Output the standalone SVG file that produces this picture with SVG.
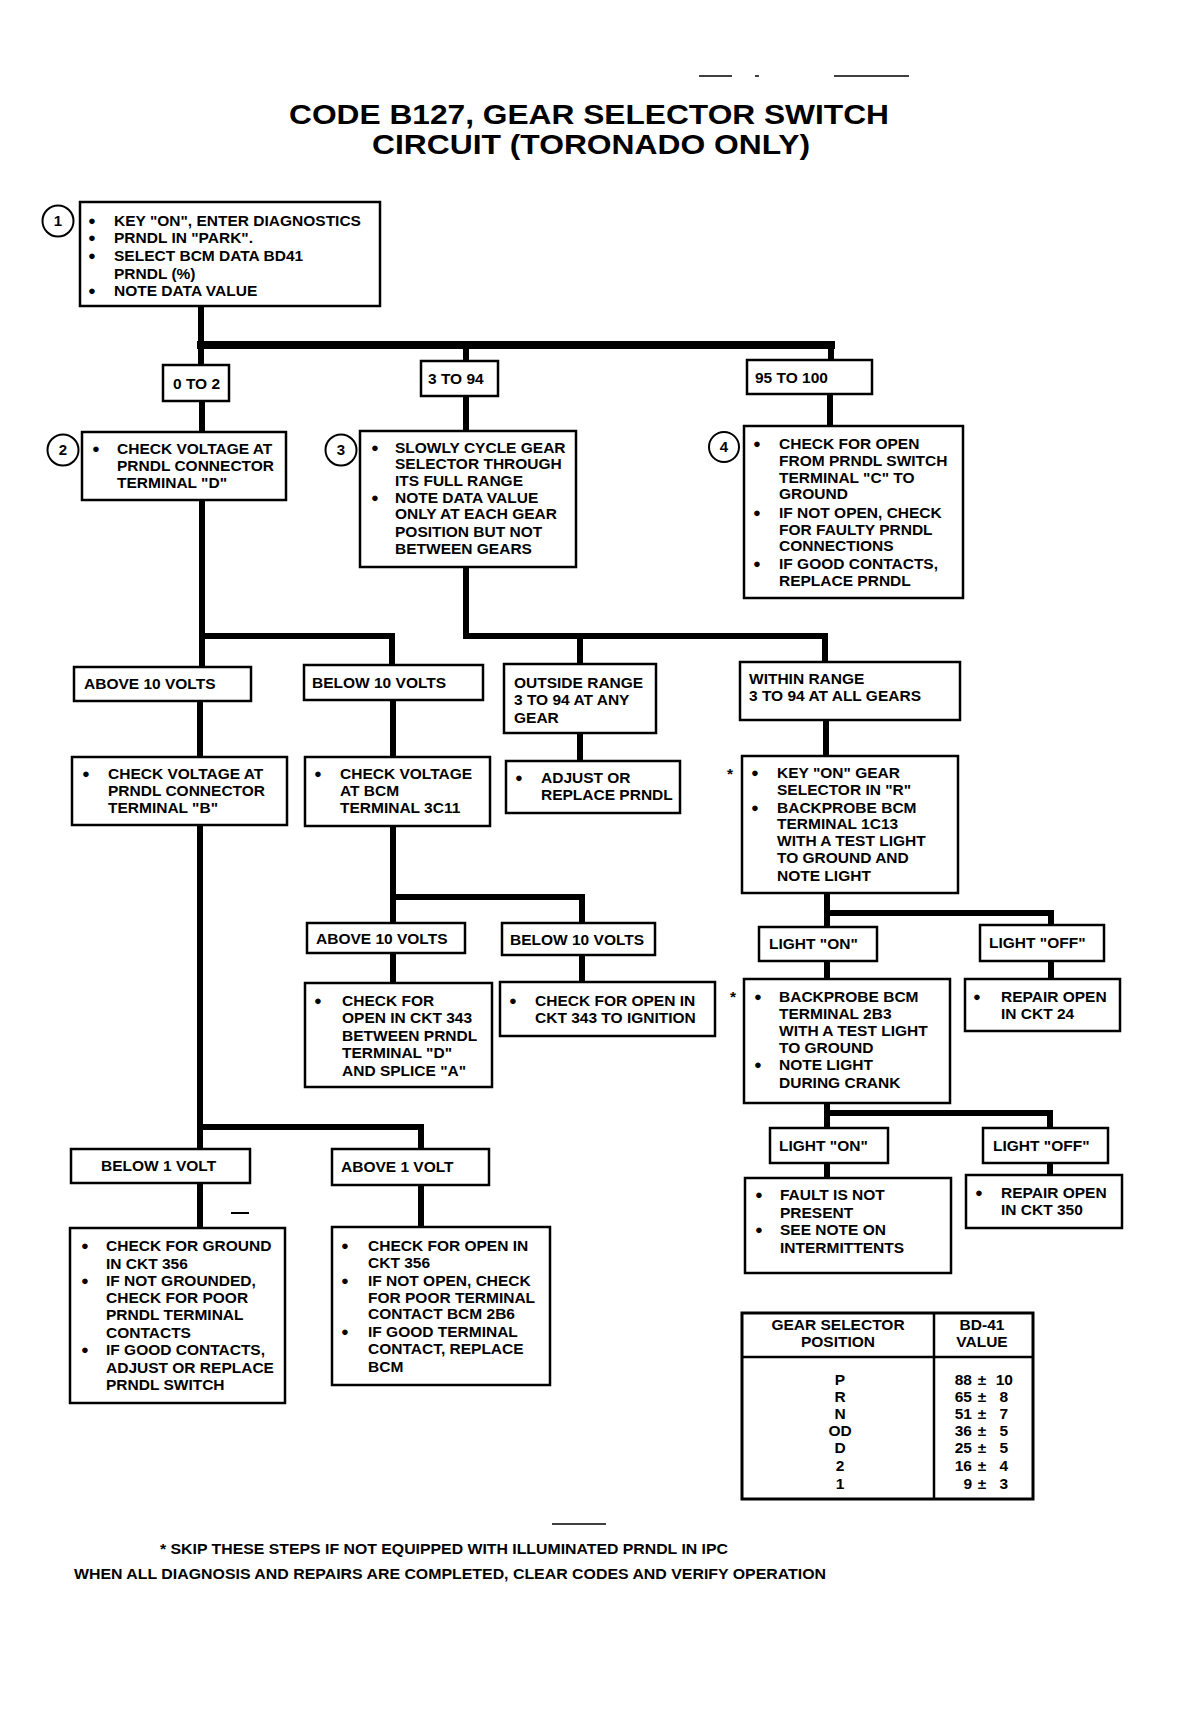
<svg xmlns="http://www.w3.org/2000/svg" width="1178" height="1716" viewBox="0 0 1178 1716">
<style>
.bx{fill:#fff;stroke:#000;stroke-width:2.5}
.t{font-family:"Liberation Sans",Arial,sans-serif;font-weight:bold;font-size:15.5px;fill:#000}
.b{font-family:"Liberation Sans",Arial,sans-serif;font-weight:bold;font-size:13px;fill:#000;text-anchor:middle}
.c{fill:none;stroke:#000;stroke-width:6;stroke-linecap:square;stroke-linejoin:miter}
.ci{fill:#fff;stroke:#000;stroke-width:2}
.n{font-family:"Liberation Sans",Arial,sans-serif;font-weight:bold;font-size:15px;text-anchor:middle}
.ttl{font-family:"Liberation Sans",Arial,sans-serif;font-weight:bold;font-size:28px;text-anchor:middle}
.ft{font-family:"Liberation Sans",Arial,sans-serif;font-weight:bold;font-size:14px}
.thin{stroke:#000;stroke-width:1.5}
</style>
<rect width="1178" height="1716" fill="#fff"/>
<g id="marks">
<line class="thin" x1="699" y1="76" x2="732" y2="76"/>
<line class="thin" x1="755" y1="76" x2="759" y2="76"/>
<line class="thin" x1="834" y1="76" x2="909" y2="76"/>
<line x1="231" y1="1213" x2="249" y2="1213" stroke="#000" stroke-width="2"/>
<line class="thin" x1="552" y1="1524" x2="606" y2="1524"/>
</g>
<g id="title">
<text class="ttl" x="589" y="124" textLength="600" lengthAdjust="spacingAndGlyphs">CODE B127, GEAR SELECTOR SWITCH</text>
<text class="ttl" x="591" y="154" textLength="438" lengthAdjust="spacingAndGlyphs">CIRCUIT (TORONADO ONLY)</text>
</g>
<g id="connectors">
<path class="c" d="M201 306V365"/>
<path class="c" style="stroke-width:8" d="M201 345H831"/>
<path class="c" d="M466 345V361M831 345V360"/>
<path class="c" d="M202 401V432M466 396V431M830 394V426"/>
<path class="c" d="M202 500V667M202 636H392V665"/>
<path class="c" d="M466 567V636H825V662M580 636V664"/>
<path class="c" d="M200 701V757M393 700V757M580 733V761M826 720V756"/>
<path class="c" d="M393 826V923M393 897H582V923"/>
<path class="c" d="M393 953V983M582 955V982"/>
<path class="c" d="M827 893V927M827 913H1051V925"/>
<path class="c" d="M827 961V979M1051 961V979"/>
<path class="c" d="M827 1103V1128M827 1113H1050V1128"/>
<path class="c" d="M827 1163V1178M1050 1163V1175"/>
<path class="c" d="M200 825V1149M200 1127H421V1149"/>
<path class="c" d="M200 1183V1228M421 1185V1227"/>
</g>
<g id="n1">
<circle class="ci" cx="58" cy="221" r="15.5"/><text class="n" x="58" y="226">1</text>
<rect class="bx" x="80" y="202" width="300" height="104"/>
<text class="b" x="92" y="224.5">●</text><text class="b" x="92" y="241.5">●</text><text class="b" x="92" y="259.5">●</text><text class="b" x="92" y="294.5">●</text>
<text class="t"><tspan x="114" y="225.5">KEY "ON", ENTER DIAGNOSTICS</tspan><tspan x="114" y="242.5">PRNDL IN "PARK".</tspan><tspan x="114" y="260.5">SELECT BCM DATA BD41</tspan><tspan x="114" y="278.5">PRNDL (%)</tspan><tspan x="114" y="295.5">NOTE DATA VALUE</tspan></text>
</g>
<g id="r0to2"><rect class="bx" x="163" y="365" width="66" height="36"/><text class="t" x="173" y="388.5">0 TO 2</text></g>
<g id="r3to94"><rect class="bx" x="421" y="361" width="77" height="35"/><text class="t" x="428" y="384">3 TO 94</text></g>
<g id="r95to100"><rect class="bx" x="747" y="360" width="125" height="34"/><text class="t" x="755" y="382.5">95 TO 100</text></g>
<g id="n2">
<circle class="ci" cx="63" cy="450" r="15.5"/><text class="n" x="63" y="455">2</text>
<rect class="bx" x="82" y="432" width="204" height="68"/>
<text class="b" x="96" y="452.5">●</text>
<text class="t"><tspan x="117" y="453.5">CHECK VOLTAGE AT</tspan><tspan x="117" y="470.5">PRNDL CONNECTOR</tspan><tspan x="117" y="487.5">TERMINAL "D"</tspan></text>
</g>
<g id="n3">
<circle class="ci" cx="341" cy="450" r="15.5"/><text class="n" x="341" y="455">3</text>
<rect class="bx" x="360" y="431" width="216" height="136"/>
<text class="b" x="375" y="451.5">●</text><text class="b" x="375" y="501.5">●</text>
<text class="t"><tspan x="395" y="452.5">SLOWLY CYCLE GEAR</tspan><tspan x="395" y="468.5">SELECTOR THROUGH</tspan><tspan x="395" y="485.5">ITS FULL RANGE</tspan><tspan x="395" y="502.5">NOTE DATA VALUE</tspan><tspan x="395" y="518.5">ONLY AT EACH GEAR</tspan><tspan x="395" y="536.5">POSITION BUT NOT</tspan><tspan x="395" y="553.5">BETWEEN GEARS</tspan></text>
</g>
<g id="n4">
<circle class="ci" cx="724" cy="447" r="15"/><text class="n" x="724" y="452">4</text>
<rect class="bx" x="744" y="426" width="219" height="172"/>
<text class="b" x="757" y="447.5">●</text><text class="b" x="757" y="516.5">●</text><text class="b" x="757" y="567.5">●</text>
<text class="t"><tspan x="779" y="448.5">CHECK FOR OPEN</tspan><tspan x="779" y="465.5">FROM PRNDL SWITCH</tspan><tspan x="779" y="482.5">TERMINAL "C" TO</tspan><tspan x="779" y="498.5">GROUND</tspan><tspan x="779" y="517.5">IF NOT OPEN, CHECK</tspan><tspan x="779" y="534.5">FOR FAULTY PRNDL</tspan><tspan x="779" y="550.5">CONNECTIONS</tspan><tspan x="779" y="568.5">IF GOOD CONTACTS,</tspan><tspan x="779" y="585.5">REPLACE PRNDL</tspan></text>
</g>
<g id="above10a"><rect class="bx" x="74" y="667" width="177" height="34"/><text class="t" x="84" y="689">ABOVE 10 VOLTS</text></g>
<g id="below10a"><rect class="bx" x="304" y="665" width="179" height="35"/><text class="t" x="312" y="688">BELOW 10 VOLTS</text></g>
<g id="outside"><rect class="bx" x="504" y="664" width="152" height="69"/><text class="t"><tspan x="514" y="687.5">OUTSIDE RANGE</tspan><tspan x="514" y="704.5">3 TO 94 AT ANY</tspan><tspan x="514" y="722.5">GEAR</tspan></text></g>
<g id="within"><rect class="bx" x="740" y="662" width="220" height="58"/><text class="t"><tspan x="749" y="683.5">WITHIN RANGE</tspan><tspan x="749" y="700.5">3 TO 94 AT ALL GEARS</tspan></text></g>
<g id="checkB">
<rect class="bx" x="72" y="757" width="215" height="68"/>
<text class="b" x="86" y="777.5">●</text>
<text class="t"><tspan x="108" y="778.5">CHECK VOLTAGE AT</tspan><tspan x="108" y="795.5">PRNDL CONNECTOR</tspan><tspan x="108" y="812.5">TERMINAL "B"</tspan></text>
</g>
<g id="checkBCM">
<rect class="bx" x="305" y="757" width="185" height="69"/>
<text class="b" x="318" y="777.5">●</text>
<text class="t"><tspan x="340" y="778.5">CHECK VOLTAGE</tspan><tspan x="340" y="795.5">AT BCM</tspan><tspan x="340" y="812.5">TERMINAL 3C11</tspan></text>
</g>
<g id="adjust">
<rect class="bx" x="506" y="761" width="174" height="52"/>
<text class="b" x="519" y="781.5">●</text>
<text class="t"><tspan x="541" y="782.5">ADJUST OR</tspan><tspan x="541" y="799.5">REPLACE PRNDL</tspan></text>
</g>
<g id="keyon">
<text class="t" x="730" y="779" text-anchor="middle">*</text>
<rect class="bx" x="742" y="756" width="216" height="137"/>
<text class="b" x="755" y="776.5">●</text><text class="b" x="755" y="811.5">●</text>
<text class="t"><tspan x="777" y="777.5">KEY "ON"  GEAR</tspan><tspan x="777" y="794.5">SELECTOR IN "R"</tspan><tspan x="777" y="812.5">BACKPROBE BCM</tspan><tspan x="777" y="828.5">TERMINAL 1C13</tspan><tspan x="777" y="845.5">WITH A TEST LIGHT</tspan><tspan x="777" y="862.5">TO GROUND AND</tspan><tspan x="777" y="880.5">NOTE LIGHT</tspan></text>
</g>
<g id="above10b"><rect class="bx" x="307" y="923" width="158" height="30"/><text class="t" x="316" y="944">ABOVE 10 VOLTS</text></g>
<g id="below10b"><rect class="bx" x="502" y="923" width="153" height="32"/><text class="t" x="510" y="945">BELOW 10 VOLTS</text></g>
<g id="open343">
<rect class="bx" x="305" y="983" width="187" height="104"/>
<text class="b" x="318" y="1004.5">●</text>
<text class="t"><tspan x="342" y="1005.5">CHECK  FOR</tspan><tspan x="342" y="1022.5">OPEN IN CKT 343</tspan><tspan x="342" y="1040.5">BETWEEN PRNDL</tspan><tspan x="342" y="1057.5">TERMINAL "D"</tspan><tspan x="342" y="1075.5">AND SPLICE "A"</tspan></text>
</g>
<g id="ign343">
<rect class="bx" x="500" y="982" width="215" height="54"/>
<text class="b" x="513" y="1004.5">●</text>
<text class="t"><tspan x="535" y="1005.5">CHECK  FOR OPEN IN</tspan><tspan x="535" y="1022.5">CKT 343 TO IGNITION</tspan></text>
</g>
<g id="lighton1"><rect class="bx" x="759" y="927" width="118" height="34"/><text class="t" x="769" y="949">LIGHT "ON"</text></g>
<g id="lightoff1"><rect class="bx" x="980" y="925" width="124" height="36"/><text class="t" x="989" y="948">LIGHT "OFF"</text></g>
<g id="backprobe">
<text class="t" x="733" y="1002" text-anchor="middle">*</text>
<rect class="bx" x="744" y="979" width="206" height="124"/>
<text class="b" x="758" y="1000.5">●</text><text class="b" x="758" y="1068.5">●</text>
<text class="t"><tspan x="779" y="1001.5">BACKPROBE BCM</tspan><tspan x="779" y="1018.5">TERMINAL 2B3</tspan><tspan x="779" y="1035.5">WITH A TEST LIGHT</tspan><tspan x="779" y="1052.5">TO GROUND</tspan><tspan x="779" y="1069.5">NOTE LIGHT</tspan><tspan x="779" y="1087.5">DURING CRANK</tspan></text>
</g>
<g id="repair24">
<rect class="bx" x="965" y="979" width="155" height="52"/>
<text class="b" x="977" y="1000.5">●</text>
<text class="t"><tspan x="1001" y="1001.5">REPAIR OPEN</tspan><tspan x="1001" y="1018.5">IN CKT 24</tspan></text>
</g>
<g id="lighton2"><rect class="bx" x="770" y="1128" width="118" height="35"/><text class="t" x="779" y="1150.5">LIGHT "ON"</text></g>
<g id="lightoff2"><rect class="bx" x="983" y="1128" width="125" height="35"/><text class="t" x="993" y="1150.5">LIGHT "OFF"</text></g>
<g id="fault">
<rect class="bx" x="745" y="1178" width="206" height="95"/>
<text class="b" x="759" y="1198.5">●</text><text class="b" x="759" y="1233.5">●</text>
<text class="t"><tspan x="780" y="1199.5">FAULT IS NOT</tspan><tspan x="780" y="1217.5">PRESENT</tspan><tspan x="780" y="1234.5">SEE NOTE ON</tspan><tspan x="780" y="1252.5">INTERMITTENTS</tspan></text>
</g>
<g id="repair350">
<rect class="bx" x="966" y="1175" width="156" height="53"/>
<text class="b" x="979" y="1196.5">●</text>
<text class="t"><tspan x="1001" y="1197.5">REPAIR OPEN</tspan><tspan x="1001" y="1214.5">IN CKT 350</tspan></text>
</g>
<g id="below1"><rect class="bx" x="71" y="1149" width="179" height="34"/><text class="t" x="101" y="1171">BELOW 1 VOLT</text></g>
<g id="above1"><rect class="bx" x="332" y="1149" width="157" height="36"/><text class="t" x="341" y="1172">ABOVE 1  VOLT</text></g>
<g id="ground356">
<rect class="bx" x="70" y="1228" width="215" height="175"/>
<text class="b" x="85" y="1249.5">●</text><text class="b" x="85" y="1284.5">●</text><text class="b" x="85" y="1353.5">●</text>
<text class="t"><tspan x="106" y="1250.5">CHECK FOR GROUND</tspan><tspan x="106" y="1268.5">IN CKT 356</tspan><tspan x="106" y="1285.5">IF NOT GROUNDED,</tspan><tspan x="106" y="1302.5">CHECK FOR POOR</tspan><tspan x="106" y="1319.5">PRNDL TERMINAL</tspan><tspan x="106" y="1337.5">CONTACTS</tspan><tspan x="106" y="1354.5">IF GOOD CONTACTS,</tspan><tspan x="106" y="1372.5">ADJUST OR REPLACE</tspan><tspan x="106" y="1389.5">PRNDL SWITCH</tspan></text>
</g>
<g id="open356">
<rect class="bx" x="332" y="1227" width="218" height="158"/>
<text class="b" x="345" y="1249.5">●</text><text class="b" x="345" y="1284.5">●</text><text class="b" x="345" y="1335.5">●</text>
<text class="t"><tspan x="368" y="1250.5">CHECK FOR OPEN IN</tspan><tspan x="368" y="1267.5">CKT 356</tspan><tspan x="368" y="1285.5">IF NOT OPEN, CHECK</tspan><tspan x="368" y="1302.5">FOR POOR TERMINAL</tspan><tspan x="368" y="1318.5">CONTACT BCM 2B6</tspan><tspan x="368" y="1336.5">IF GOOD TERMINAL</tspan><tspan x="368" y="1353.5">CONTACT, REPLACE</tspan><tspan x="368" y="1371.5">BCM</tspan></text>
</g>
<g id="table">
<rect x="742" y="1313" width="291" height="186" fill="#fff" stroke="#000" stroke-width="3"/>
<line x1="742" y1="1357" x2="1033" y2="1357" stroke="#000" stroke-width="2.5"/>
<line x1="934" y1="1313" x2="934" y2="1499" stroke="#000" stroke-width="2.5"/>
<text class="t" text-anchor="middle"><tspan x="838" y="1330">GEAR SELECTOR</tspan><tspan x="838" y="1347">POSITION</tspan><tspan x="982" y="1330">BD-41</tspan><tspan x="982" y="1347">VALUE</tspan></text>
<text class="t" text-anchor="middle"><tspan x="840" y="1384.5">P</tspan><tspan x="840" y="1401.5">R</tspan><tspan x="840" y="1418.5">N</tspan><tspan x="840" y="1435.5">OD</tspan><tspan x="840" y="1452.5">D</tspan><tspan x="840" y="1470.5">2</tspan><tspan x="840" y="1488.5">1</tspan></text>
<text class="t" text-anchor="end"><tspan x="972" y="1384.5">88</tspan><tspan x="972" y="1401.5">65</tspan><tspan x="972" y="1418.5">51</tspan><tspan x="972" y="1435.5">36</tspan><tspan x="972" y="1452.5">25</tspan><tspan x="972" y="1470.5">16</tspan><tspan x="972" y="1488.5">9</tspan></text>
<text class="t" text-anchor="middle"><tspan x="982" y="1384.5">±</tspan><tspan x="982" y="1401.5">±</tspan><tspan x="982" y="1418.5">±</tspan><tspan x="982" y="1435.5">±</tspan><tspan x="982" y="1452.5">±</tspan><tspan x="982" y="1470.5">±</tspan><tspan x="982" y="1488.5">±</tspan></text>
<text class="t" text-anchor="end"><tspan x="1013" y="1384.5">10</tspan><tspan x="1008" y="1401.5">8</tspan><tspan x="1008" y="1418.5">7</tspan><tspan x="1008" y="1435.5">5</tspan><tspan x="1008" y="1452.5">5</tspan><tspan x="1008" y="1470.5">4</tspan><tspan x="1008" y="1488.5">3</tspan></text>
</g>
<g id="footer">
<text class="ft" x="160" y="1554" textLength="568" lengthAdjust="spacingAndGlyphs">* SKIP THESE STEPS IF NOT EQUIPPED WITH ILLUMINATED PRNDL IN IPC</text>
<text class="ft" x="74" y="1579" textLength="752" lengthAdjust="spacingAndGlyphs">WHEN ALL DIAGNOSIS AND REPAIRS ARE COMPLETED, CLEAR CODES AND VERIFY OPERATION</text>
</g>
</svg>
